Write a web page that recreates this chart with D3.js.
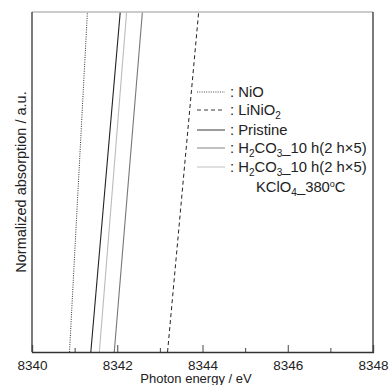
<!DOCTYPE html>
<html>
<head>
<meta charset="utf-8">
<script src="https://cdn.jsdelivr.net/npm/d3@7"></script>
<style>
  body { margin: 0; background: #fff; }
  svg { display: block; font-family: "Liberation Sans", Arial, sans-serif; }
</style>
</head>
<body>
<svg width="389" height="385"></svg>
<script>
// normalized absorption levels where each edge was read (bottom, top of frame)
var absorption = [0.40, 0.60];

// photon energy (eV) of each edge at those absorption levels
var nioE = [8340.88, 8341.30];
var linio2E = [8343.18, 8343.91];
var pristineE = [8341.38, 8342.07];
var h2co3E = [8341.93, 8342.59];
var kclo4E = [8341.58, 8342.22];

var majorTicks = [8340, 8342, 8344, 8346, 8348];
var minorTicks = [8341, 8343, 8345, 8347];

var series = [
  { name: "NiO", e: nioE, color: "#333", width: 1, dash: "1,1.3" },
  { name: "LiNiO2", e: linio2E, color: "#222", width: 1, dash: "4,3" },
  { name: "Pristine", e: pristineE, color: "#222", width: 1.1, dash: null },
  { name: "H2CO3", e: h2co3E, color: "#777", width: 1.1, dash: null },
  { name: "KClO4", e: kclo4E, color: "#bbb", width: 1.1, dash: null }
];

var mLeft = 32, mRight = 373, mTop = 12, mBottom = 352;

var svg = d3.select("svg");

var x = d3.scaleLinear().domain([8340, 8348]).range([mLeft, mRight]);
var y = d3.scaleLinear().domain([0.40, 0.60]).range([mBottom, mTop]);

svg.append("clipPath").attr("id", "plot")
  .append("rect")
  .attr("x", mLeft).attr("y", mTop)
  .attr("width", mRight - mLeft).attr("height", mBottom - mTop);

var line = d3.line()
  .x(d => x(d[0]))
  .y(d => y(d[1]));

svg.append("g")
  .attr("clip-path", "url(#plot)")
  .selectAll("path")
  .data(series)
  .join("path")
  .attr("d", d => line(d.e.map((v, i) => [v, absorption[i]])))
  .attr("fill", "none")
  .attr("stroke", d => d.color)
  .attr("stroke-width", d => d.width)
  .attr("stroke-dasharray", d => d.dash);

// frame
svg.append("line").attr("x1", mLeft).attr("x2", mRight).attr("y1", mTop).attr("y2", mTop)
  .attr("stroke", "#bbb").attr("stroke-width", 1.3);
svg.append("line").attr("x1", mLeft).attr("x2", mLeft).attr("y1", mTop).attr("y2", mBottom)
  .attr("stroke", "#333").attr("stroke-width", 1.3);
svg.append("line").attr("x1", mRight).attr("x2", mRight).attr("y1", mTop).attr("y2", mBottom)
  .attr("stroke", "#333").attr("stroke-width", 1.3);

// axes
var xAxis = svg.append("g")
  .attr("transform", "translate(0," + mBottom + ")")
  .call(d3.axisBottom(x).tickValues(majorTicks).tickFormat(d3.format("d"))
    .tickSize(-7).tickPadding(8));
xAxis.select(".domain").attr("stroke", "#333").attr("stroke-width", 1.3);
xAxis.selectAll(".tick line").attr("stroke", "#444");
xAxis.selectAll("text").attr("font-size", 13.5).attr("fill", "#222")
  .attr("font-family", "Liberation Sans, Arial, sans-serif");

var xMinor = svg.append("g")
  .attr("transform", "translate(0," + mBottom + ")")
  .call(d3.axisBottom(x).tickValues(minorTicks).tickFormat("").tickSize(-4));
xMinor.select(".domain").remove();
xMinor.selectAll(".tick line").attr("stroke", "#444");

svg.append("text")
  .attr("x", 196).attr("y", 383)
  .attr("text-anchor", "middle")
  .attr("font-size", 13).attr("fill", "#222")
  .text("Photon energy / eV");

svg.append("text")
  .attr("transform", "translate(26," + (mTop + mBottom) / 2 + ") rotate(-90)")
  .attr("text-anchor", "middle")
  .attr("font-size", 14.5).attr("fill", "#222")
  .text("Normalized absorption / a.u.");

// legend
var legendY = [92, 110, 130, 148, 167];
var leg = svg.append("g");

leg.selectAll("line")
  .data(series)
  .join("line")
  .attr("x1", 197).attr("x2", 225)
  .attr("y1", (d, i) => legendY[i]).attr("y2", (d, i) => legendY[i])
  .attr("stroke", d => d.color)
  .attr("stroke-width", 0.9)
  .attr("stroke-dasharray", d => d.dash);

function label(yy, parts) {
  var t = leg.append("text")
    .attr("x", 230).attr("y", yy + 5)
    .attr("font-size", 14.8).attr("fill", "#222");
  parts.forEach(p => {
    var ts = t.append("tspan").text(p[0]);
    if (p[1] === "sub") ts.attr("font-size", 10).attr("dy", 3.5);
    if (p[1] === "up") ts.attr("dy", -3.5);
  });
  return t;
}

label(legendY[0], [[": NiO"]]);
label(legendY[1], [[": LiNiO"], ["2", "sub"], ["", "up"]]);
label(legendY[2], [[": Pristine"]]);
label(legendY[3], [[": H"], ["2", "sub"], ["CO", "up"], ["3", "sub"], ["_10 h(2 h\u00d75)", "up"]]);
label(legendY[4], [[": H"], ["2", "sub"], ["CO", "up"], ["3", "sub"], ["_10 h(2 h\u00d75)", "up"]]);

var k = leg.append("text")
  .attr("x", 256).attr("y", 187 + 5)
  .attr("font-size", 14.8).attr("fill", "#222");
k.append("tspan").text("KClO");
k.append("tspan").text("4").attr("font-size", 10).attr("dy", 3.5);
k.append("tspan").text("_380").attr("dy", -3.5);
k.append("tspan").text("o").attr("font-size", 9).attr("dy", -5.5);
k.append("tspan").text("C").attr("dy", 5.5);
</script>
</body>
</html>
